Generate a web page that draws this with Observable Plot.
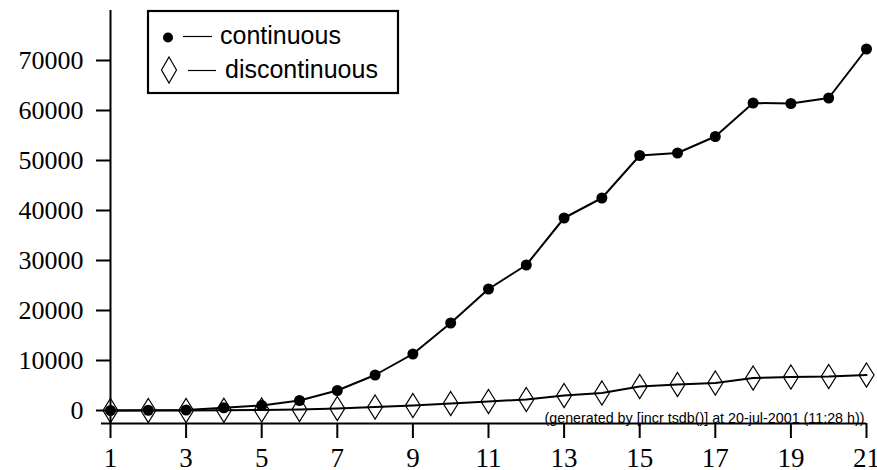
<!DOCTYPE html>
<html>
<head>
<meta charset="utf-8">
<script src="https://cdn.jsdelivr.net/npm/d3@7"></script>
<script src="https://cdn.jsdelivr.net/npm/@observablehq/plot@0.6"></script>
<style>
  html, body { margin: 0; padding: 0; background: #fff; }
  #chart svg { display: block; overflow: hidden; }
</style>
</head>
<body>
<div id="chart"></div>
<script>
// ---- data ----
const steps = [1, 2, 3, 4, 5, 6, 7, 8, 9, 10, 11, 12, 13, 14, 15, 16, 17, 18, 19, 20, 21];
const continuous = [0, 50, 100, 550, 1000, 2000, 4000, 7100, 11300, 17500, 24300, 29100,
                    38500, 42500, 51000, 51500, 54800, 61500, 61400, 62500, 72300];
const discontinuous = [0, 0, 0, 50, 100, 200, 400, 700, 1000, 1400, 1800, 2200,
                       3000, 3500, 4800, 5200, 5500, 6500, 6700, 6800, 7100];
const xTicks = [1, 3, 5, 7, 9, 11, 13, 15, 17, 19, 21];
const yTicks = [0, 10000, 20000, 30000, 40000, 50000, 60000, 70000];
const seriesNames = ["continuous", "discontinuous"];
const caption = "(generated by [incr tsdb()] at 20-jul-2001 (11:28 h))";
const xDomain = [1, 21];
const yDomain = [-2600, 80000];

const contData = steps.map((s, i) => ({step: s, value: continuous[i]}));
const discData = steps.map((s, i) => ({step: s, value: discontinuous[i]}));

// tall, narrow diamond (lozenge) symbol
const lozenge = {
  draw(ctx, size) {
    const r = Math.sqrt(size / Math.PI), w = r * 0.625;
    ctx.moveTo(0, -r); ctx.lineTo(w, 0); ctx.lineTo(0, r); ctx.lineTo(-w, 0); ctx.closePath();
  }
};

const serif = "Liberation Serif";
const sans = "Liberation Sans";

const chart = Plot.plot({
  width: 877, height: 470,
  marginLeft: 110, marginRight: 11, marginTop: 10, marginBottom: 47,
  style: {background: "#fff", color: "#000"},
  x: {domain: xDomain},
  y: {domain: yDomain},
  marks: [
    // axis lines
    Plot.ruleX([xDomain[0]], {stroke: "#000", strokeWidth: 2}),
    Plot.ruleY([yDomain[0]], {stroke: "#000", strokeWidth: 2, insetLeft: -9}),
    // y axis: ticks from the axis mark, labels as a serif text mark
    Plot.axisY({ticks: yTicks, tickSize: 14, text: null, strokeWidth: 2, label: null}),
    Plot.text(yTicks, {x: () => xDomain[0], y: d => d, text: d => String(d),
                       textAnchor: "end", lineAnchor: "middle", dx: -27,
                       fontSize: 26, fontFamily: serif, fill: "#000"}),
    Plot.axisX({ticks: xTicks, tickFormat: d => String(d), tickSize: 15, tickPadding: 9,
                fontSize: 27, fontFamily: serif, strokeWidth: 2, label: null}),
    // discontinuous series
    Plot.line(discData, {x: "step", y: "value", stroke: "#000", strokeWidth: 2}),
    Plot.dot(discData, {x: "step", y: "value", symbol: lozenge, r: 12,
                        stroke: "#000", strokeWidth: 1.2, fill: "none"}),
    // continuous series
    Plot.line(contData, {x: "step", y: "value", stroke: "#000", strokeWidth: 2}),
    Plot.dot(contData, {x: "step", y: "value", r: 5.5, fill: "#000", stroke: "none"}),
    // caption
    Plot.text([caption], {frameAnchor: "bottom-right", dx: -2, dy: -1, fontSize: 14.3,
                          fontFamily: sans, fill: "#000"})
  ]
});
document.getElementById("chart").appendChild(chart);

// ---- legend box (drawn in the plot's SVG) ----
const lg = d3.select(chart).append("g").attr("class", "legend").attr("text-anchor", "start");
lg.append("rect").attr("x", 148).attr("y", 11).attr("width", 250).attr("height", 82)
  .attr("fill", "#fff").attr("stroke", "#000").attr("stroke-width", 2.2);
lg.append("circle").attr("cx", 168).attr("cy", 37.5).attr("r", 5).attr("fill", "#000");
lg.append("line").attr("x1", 183).attr("x2", 212).attr("y1", 36.5).attr("y2", 36.5)
  .attr("stroke", "#000").attr("stroke-width", 1.2);
lg.append("text").attr("x", 220).attr("y", 43.5).attr("font-family", sans)
  .attr("font-size", 25).attr("fill", "#000").text(seriesNames[0]);
lg.append("path").attr("d", "M169,57 L176.5,70 L169,83 L161.5,70 Z")
  .attr("fill", "none").attr("stroke", "#000").attr("stroke-width", 1.2);
lg.append("line").attr("x1", 188).attr("x2", 216).attr("y1", 70.5).attr("y2", 70.5)
  .attr("stroke", "#000").attr("stroke-width", 1.2);
lg.append("text").attr("x", 225).attr("y", 77.5).attr("font-family", sans)
  .attr("font-size", 25).attr("fill", "#000").text(seriesNames[1]);
</script>
</body>
</html>
